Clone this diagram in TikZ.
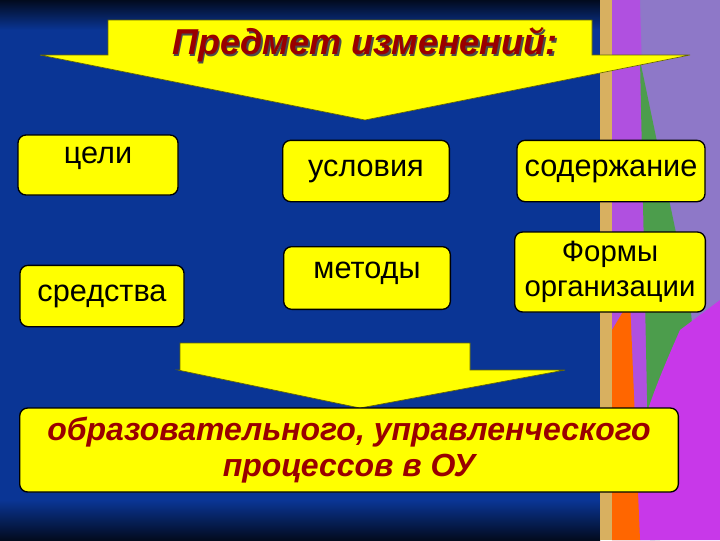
\documentclass[tikz,border=0pt]{standalone}
\usepackage{fontspec}
\setmainfont{Liberation Sans}
\definecolor{bg}{HTML}{0A3595}
\definecolor{dred}{HTML}{990000}
\definecolor{ylw}{HTML}{FFFF00}
\definecolor{lil}{HTML}{8E78C8}
\definecolor{pur}{HTML}{B050E0}
\definecolor{gold}{HTML}{D8B060}
\begin{document}
\begin{tikzpicture}[x=0.75pt,y=-0.75pt,
 box/.style={draw=black,line width=1pt,fill=ylw,rounded corners=6pt,font=\fontsize{23}{24}\selectfont,text=black,inner sep=0pt},
 arr/.style={fill=ylw,draw=black!60!ylw,line width=0.5pt},
 big/.style={font=\bfseries\itshape\fontsize{24}{27}\selectfont,text=dred}]
\fill[bg] (0,0) rectangle (720,540);
\shade[top color=black!80!bg,bottom color=bg] (0,0) rectangle (600,30);
\shade[top color=bg,bottom color=black!80!bg] (0,500) rectangle (600,540);
% right decoration
\fill[lil] (600,0) rectangle (720,540);
\fill[gold] (600,0) rectangle (612,540);
\fill[pur] (612,0) -- (640,0) -- (655,540) -- (612,540) -- cycle;
\fill[green!45!black!70!white] (640,60) -- (690,300) -- (700,420) -- (660,540) -- (650,540) -- cycle;
\fill[pur!70!magenta] (680,330) .. controls (640,420) and (620,480) .. (640,540) -- (720,540) -- (720,300) -- cycle;
\fill[orange!80!red] (612,330) -- (630,300) -- (640,540) -- (612,540) -- cycle;
% top arrow
\path[arr] (108,20) -- (592,20) -- (592,55) -- (690,55) -- (365,120) -- (40,55) -- (108,55) -- cycle;
\node[big,font=\bfseries\itshape\fontsize{27}{30}\selectfont,text=black!70] at (366.5,46.5) {Предмет изменений:};
\node[big,font=\bfseries\itshape\fontsize{27}{30}\selectfont] (title) at (365,45) {Предмет изменений:};
% boxes
\node[box,minimum width=120pt,minimum height=45pt,text depth=14pt] (c1) at (98,165) {цели};
\node[box,minimum width=125pt,minimum height=46pt] (c2) at (366,171) {условия};
\node[box,minimum width=141pt,minimum height=46pt] (c3) at (611,171) {содержание};
\node[box,minimum width=123pt,minimum height=46pt] (c4) at (102,296) {средства};
\node[box,minimum width=125pt,minimum height=47pt,text depth=12pt] (c5) at (367,278) {методы};
\node[box,minimum width=143pt,minimum height=60pt,align=center,font=\fontsize{22}{26}\selectfont] (c6) at (610,272) {Формы\\организации};
% bottom arrow
\path[arr] (180,343) -- (470,343) -- (470,370) -- (565,370) -- (360,408) -- (178,370) -- (180,370) -- cycle;
\node[box,minimum width=494pt,minimum height=63pt,align=center,big] (res) at (349,450) {образовательного, управленческого\\процессов в ОУ};
\end{tikzpicture}
\end{document}
